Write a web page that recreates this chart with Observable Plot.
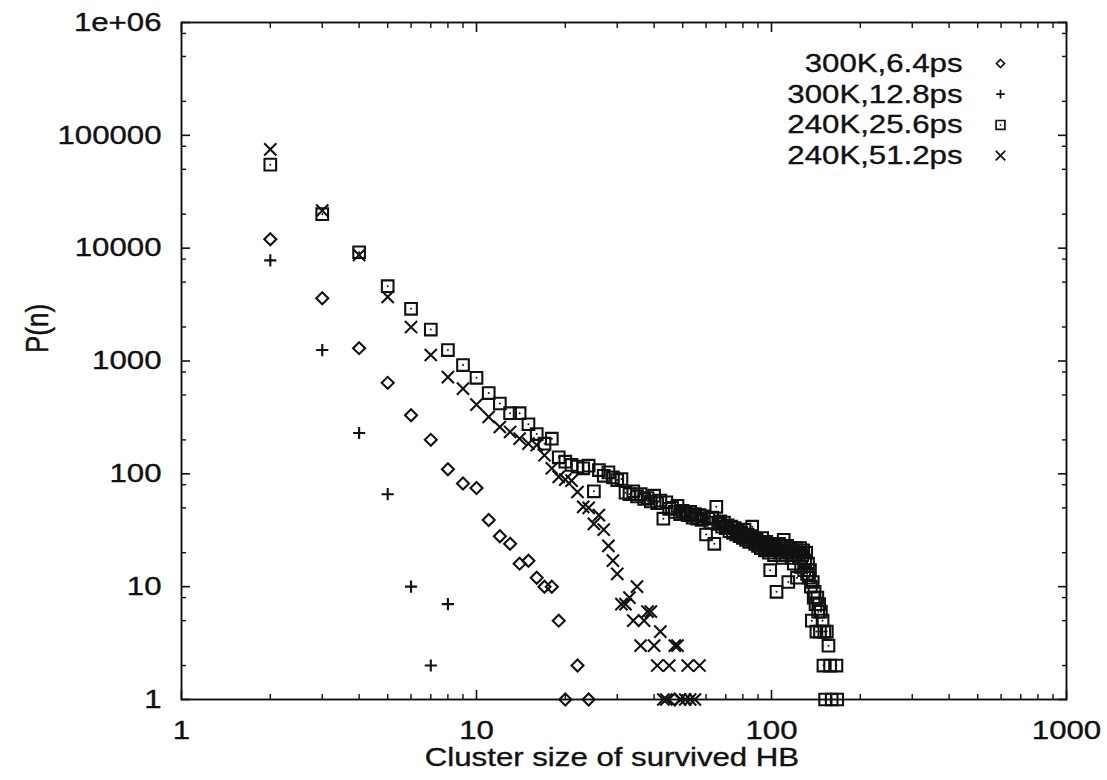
<!DOCTYPE html>
<html>
<head>
<meta charset="utf-8">
<script src="https://cdn.jsdelivr.net/npm/d3@7"></script>
<script src="https://cdn.jsdelivr.net/npm/@observablehq/plot@0.6"></script>
<style>
  html, body { margin: 0; padding: 0; background: #fff; }
  #chart svg { display: block; }
</style>
</head>
<body>
<div id="chart"></div>
<script>
// Hydrogen-bond cluster size distributions P(n) for four runs.
const seriesNames = ["300K,6.4ps", "300K,12.8ps", "240K,25.6ps", "240K,51.2ps"];

// 300K, 6.4 ps
const n_300K_6p4 = [2, 3, 4, 5, 6, 7, 8, 9, 10, 11, 12, 13, 14, 15, 16, 17, 18, 19, 20, 22, 24, 47];
const p_300K_6p4 = [12000, 3600, 1300, 640, 330, 200, 110, 82, 75, 39, 28, 24, 16, 17, 12, 10, 10, 5, 1, 2, 1, 1];

// 300K, 12.8 ps
const n_300K_12p8 = [2, 3, 4, 5, 6, 7, 8];
const p_300K_12p8 = [7800, 1250, 230, 66, 10, 2, 7];

// 240K, 25.6 ps
const n_240K_25p6 = [
  2, 3, 4, 5, 6, 7, 8, 9, 10, 11,
  12, 13, 14, 15, 16, 17, 18, 19, 20, 21,
  22, 23, 24, 25, 26, 27, 28, 29, 30, 31,
  32, 33, 34, 35, 36, 37, 38, 39, 40, 41,
  42, 43, 44, 45, 46, 47, 48, 49, 50, 51,
  52, 53, 54, 55, 56, 57, 58, 59, 60, 61,
  62, 63, 64, 65, 66, 67, 68, 69, 70, 71,
  72, 73, 74, 75, 76, 77, 78, 79, 80, 81,
  82, 83, 84, 85, 86, 87, 88, 89, 90, 91,
  92, 93, 94, 95, 96, 97, 98, 99, 100, 101,
  102, 103, 104, 105, 106, 107, 108, 109, 110, 111,
  112, 113, 114, 115, 116, 117, 118, 119, 120, 121,
  122, 123, 124, 125, 126, 127, 128, 129, 130, 131,
  132, 133, 134, 135, 136, 137, 138, 139, 140, 141,
  142, 143, 144, 145, 146, 147,
  149, 150, 151, 152, 154, 156, 158, 160, 166, 167
];
const p_240K_25p6 = [
  55000, 20000, 9200, 4600, 2900, 1900, 1250, 920, 710, 520,
  420, 345, 345, 275, 225, 185, 205, 140, 128, 120,
  116, 112, 118, 70, 108, 96, 103, 93, 88, 90,
  68, 66, 70, 63, 66, 60, 61, 57, 64, 55,
  58, 40, 56, 49, 50, 46, 52, 44, 47, 45,
  43, 46, 41, 44, 40, 43, 39, 42, 29, 40,
  37, 41, 24, 51, 36, 38, 34, 37, 33, 35,
  31, 34, 30, 33, 29, 31, 28, 30, 27, 32,
  26, 29, 25, 28, 34, 27, 24, 26, 23, 25,
  22, 27, 24, 21, 25, 23, 20, 14, 24, 22,
  19, 23, 9, 21, 24, 20, 22, 18, 26, 21,
  19, 23, 11, 20, 22, 18, 21, 16, 19, 22,
  12, 20, 18, 22, 15, 19, 21, 14, 17, 20,
  13, 16, 12, 14, 10, 5, 11, 8, 9, 7,
  4, 8, 6, 7, 4, 6,
  5, 2, 4, 1, 4, 3, 2, 1, 2, 1
];

// 240K, 51.2 ps
const n_240K_51p2 = [
  2, 3, 4, 5, 6, 7, 8, 9, 10, 11,
  12, 13, 14, 15, 16, 17, 18, 19, 20, 21,
  22, 23, 24, 25, 26, 27, 28, 29, 30, 31,
  32, 33, 34, 35, 36, 37, 38, 39, 40, 41,
  42, 43, 44, 45, 47, 48, 49, 51, 52, 53,
  55, 57
];
const p_240K_51p2 = [
  75000, 21500, 8700, 3700, 2000, 1130, 720, 570, 410, 320,
  260, 235, 205, 185, 180, 146, 112, 94, 89, 87,
  69, 51, 50, 36, 43, 32, 23, 17, 13, 7,
  7, 8, 5, 10, 3, 5, 6, 6, 3, 2,
  4, 1, 1, 2, 3, 3, 1, 1, 2, 1,
  1, 2
];

// Axis ticks and labels
const xTicks = [1, 10, 100, 1000];
const xTickLabels = ["1", "10", "100", "1000"];
const yTicks = [1, 10, 100, 1000, 10000, 100000, 1000000];
const yTickLabels = ["1", "10", "100", "1000", "10000", "100000", "1e+06"];
const xMinorSteps = [2, 3, 4, 5, 6, 7, 8, 9];
const yMinorSteps = [2, 5, 8];

const xMinor = [1, 10, 100].flatMap(d => xMinorSteps.map(m => d * m));
const yMinor = [1, 10, 100, 1000, 10000, 100000].flatMap(d => yMinorSteps.map(m => d * m));

const table = (ns, ps) => ns.map((n, i) => ({n, p: ps[i]}));
const series = [
  {name: seriesNames[0], data: table(n_300K_6p4, p_300K_6p4), symbol: "diamond2", r: 5.4, lr: 3.6},
  {name: seriesNames[1], data: table(n_300K_12p8, p_300K_12p8), symbol: "plus", r: 4.0, lr: 2.9},
  {name: seriesNames[2], data: table(n_240K_25p6, p_240K_25p6), symbol: "square2", r: 7.4, lr: 5.6},
  {name: seriesNames[3], data: table(n_240K_51p2, p_240K_51p2), symbol: "times", r: 5.6, lr: 4.4}
];

const ink = "#111";
const fontSize = 26;

const marks = [];

// mirrored inward ticks on all four sides
for (const anchor of ["bottom", "top"]) {
  marks.push(Plot.axisX(xTicks, {anchor, tickSize: -9, fill: "none", stroke: ink, strokeWidth: 1.6, label: null}));
  marks.push(Plot.axisX(xMinor, {anchor, tickSize: -5, fill: "none", stroke: ink, strokeWidth: 1.4, label: null}));
}
for (const anchor of ["left", "right"]) {
  marks.push(Plot.axisY(yTicks, {anchor, tickSize: -9, fill: "none", stroke: ink, strokeWidth: 1.6, label: null}));
  marks.push(Plot.axisY(yMinor, {anchor, tickSize: -5, fill: "none", stroke: ink, strokeWidth: 1.4, label: null}));
}

// tick labels
marks.push(Plot.axisX(xTicks, {
  anchor: "bottom", tickSize: 0, tickPadding: 21, fill: ink, label: null,
  tickFormat: d => xTickLabels[xTicks.indexOf(d)]
}));
marks.push(Plot.axisY(yTicks, {
  anchor: "left", tickSize: 0, tickPadding: 20, fill: ink, label: null,
  tickFormat: d => yTickLabels[yTicks.indexOf(d)]
}));

marks.push(Plot.frame({stroke: ink, strokeWidth: 1.9}));

// axis titles
marks.push(Plot.text(["Cluster size of survived HB"], {
  x: null, y: null, text: d => d, frameAnchor: "bottom", dx: -12, dy: 58, lineAnchor: "middle", fill: ink
}));
marks.push(Plot.text(["P(n)"], {
  x: null, y: null, text: d => d, frameAnchor: "left", dx: -143, dy: -8, rotate: -90, lineAnchor: "middle", fill: ink
}));

// data points
for (const s of series) {
  marks.push(Plot.dot(s.data, {
    x: "n", y: "p", symbol: () => s.symbol, r: s.r, fill: "none", stroke: ink, strokeWidth: 2.1
  }));
  if (s.symbol === "square2") {
    marks.push(Plot.dot(s.data, {x: "n", y: "p", r: 1.0, fill: ink, stroke: "none"}));
  }
}

// legend, top right inside the frame
series.forEach((s, i) => {
  const dy = 41 + i * 30.7;
  marks.push(Plot.text([s.name], {
    x: null, y: null, text: d => d, frameAnchor: "top-right", dx: -104, dy,
    textAnchor: "end", lineAnchor: "middle", fill: ink
  }));
  marks.push(Plot.dot([s.name], {
    x: null, y: null, frameAnchor: "top-right", dx: -66, dy,
    symbol: () => s.symbol, r: s.lr, fill: "none", stroke: ink, strokeWidth: 1.7
  }));
  if (s.symbol === "square2") {
    marks.push(Plot.dot([s.name], {
      x: null, y: null, frameAnchor: "top-right", dx: -66, dy, r: 0.9, fill: ink, stroke: "none"
    }));
  }
});

const chart = Plot.plot({
  width: 1107,
  height: 780,
  marginLeft: 181,
  marginRight: 41,
  marginTop: 22,
  marginBottom: 81,
  x: {type: "log", domain: [1, 1000]},
  y: {type: "log", domain: [1, 1e6]},
  style: {
    fontFamily: "'Liberation Sans', Arial, Helvetica, sans-serif",
    fontSize: `${fontSize}px`,
    color: ink,
    background: "#fff"
  },
  marks
});

// the lettering is set slightly wide and a little heavy
const stretch = 1.2;
chart.querySelectorAll("text").forEach(t => {
  const tr = t.getAttribute("transform");
  if (tr) {
    t.setAttribute("transform", tr + (tr.includes("rotate") ? ` scale(1,${stretch})` : ` scale(${stretch},1)`));
  } else {
    const x = +(t.getAttribute("x") || 0), y = +(t.getAttribute("y") || 0);
    t.removeAttribute("x");
    t.removeAttribute("y");
    t.setAttribute("transform", `translate(${x},${y}) scale(${stretch},1)`);
  }
  t.setAttribute("stroke", ink);
  t.setAttribute("stroke-width", "0.35");
});

document.getElementById("chart").appendChild(chart);
</script>
</body>
</html>
